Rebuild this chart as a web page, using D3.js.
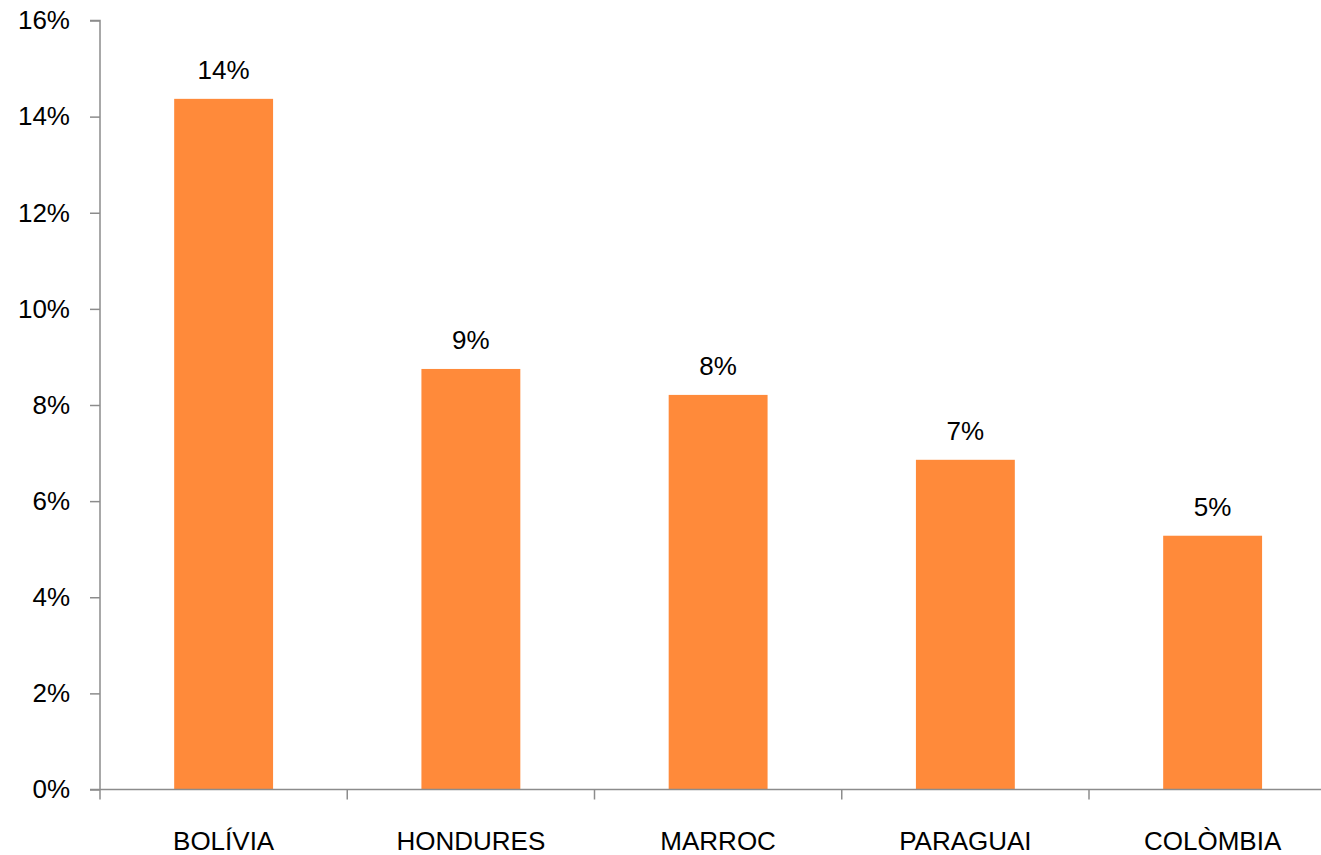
<!DOCTYPE html>
<html>
<head>
<meta charset="utf-8">
<script src="https://cdn.jsdelivr.net/npm/d3@7"></script>
<style>
  body { margin: 0; background: #fff; }
  text { font-family: "Liberation Sans", Arial, sans-serif; fill: #000; }
</style>
</head>
<body>
<div id="chart"></div>
<script>
// data
var countries = ["BOLÍVIA", "HONDURES", "MARROC", "PARAGUAI", "COLÒMBIA"];
var shares = [14.37, 8.75, 8.21, 6.86, 5.28];
var yTicks = [0, 2, 4, 6, 8, 10, 12, 14, 16];

var width = 1321, height = 855;
var plotLeft = 100, plotTop = 20.5, base = 789.5, step = 247.25;

var svg = d3.select("#chart").append("svg")
    .attr("width", width)
    .attr("height", height);

var x = d3.scaleBand()
    .domain(countries)
    .range([plotLeft, plotLeft + step * countries.length])
    .paddingInner(0.6)
    .paddingOuter(0.3);

var y = d3.scaleLinear()
    .domain([0, 16])
    .range([base, plotTop]);

// bars
svg.append("g").selectAll("rect")
    .data(countries)
    .enter().append("rect")
    .attr("x", function (d) { return x(d); })
    .attr("width", x.bandwidth())
    .attr("y", function (d, i) { return y(shares[i]); })
    .attr("height", function (d, i) { return base - y(shares[i]); })
    .style("fill", "#FF8A3A");

// value labels
svg.append("g").selectAll("text")
    .data(countries)
    .enter().append("text")
    .attr("x", function (d) { return x(d) + x.bandwidth() / 2; })
    .attr("y", function (d, i) { return y(shares[i]) - 20; })
    .attr("text-anchor", "middle")
    .style("font-size", "26px")
    .text(function (d, i) { return Math.round(shares[i]) + "%"; });

// y axis
var yAxis = svg.append("g")
    .attr("transform", "translate(" + plotLeft + ",0)")
    .call(d3.axisLeft(y).tickValues(yTicks).tickSize(10).tickPadding(20)
        .tickFormat(function (d) { return d + "%"; }));
yAxis.select(".domain").attr("d", "M-10," + y(16) + "H0V" + base).style("stroke", "#8c8c8c").style("stroke-width", 1.5);
yAxis.selectAll(".tick line").style("stroke", "#8c8c8c").style("stroke-width", 1.5);
yAxis.selectAll(".tick text").style("font-size", "26px").style("font-family", "Liberation Sans, Arial, sans-serif").style("fill", "#000");

// x axis
var xAxis = svg.append("g")
    .attr("transform", "translate(0," + base + ")");
xAxis.append("line")
    .attr("x1", plotLeft - 10).attr("x2", width)
    .style("stroke", "#8c8c8c").style("stroke-width", 1.5);
var bounds = d3.range(countries.length + 1).map(function (i) { return plotLeft + i * step; });
xAxis.selectAll(".xtick")
    .data(bounds)
    .enter().append("line")
    .attr("class", "xtick")
    .attr("x1", function (d) { return d; })
    .attr("x2", function (d) { return d; })
    .attr("y1", 0).attr("y2", 10)
    .style("stroke", "#8c8c8c").style("stroke-width", 1.5);
xAxis.selectAll(".xlabel")
    .data(countries)
    .enter().append("text")
    .attr("class", "xlabel")
    .attr("x", function (d) { return x(d) + x.bandwidth() / 2; })
    .attr("y", 60)
    .attr("text-anchor", "middle")
    .style("font-size", "26px")
    .text(function (d) { return d; });
</script>
</body>
</html>
